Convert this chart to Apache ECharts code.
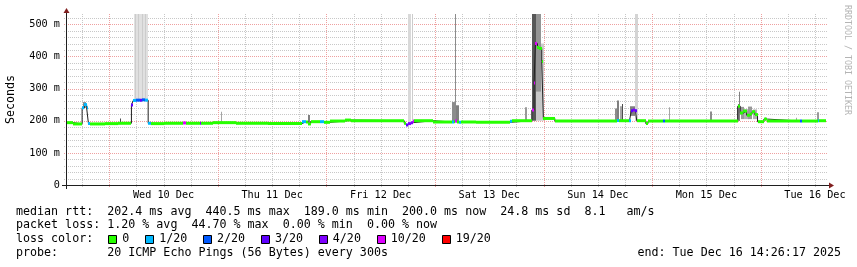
<!DOCTYPE html>
<html><head><meta charset="utf-8">
<script src="https://cdn.jsdelivr.net/npm/echarts@6/dist/echarts.min.js"></script>
<style>html,body{margin:0;padding:0;background:#fff;}#c{width:857px;height:267px;}</style>
</head><body><div id="c"></div>
<script>
// time axis: hours since Tue Dec 9 2025 00:00
const START = 14 + 26/60 + 17/3600;
const END = START + 168;
const Y_MAX = 532;

const dayNoon = [36, 60, 84, 108, 132, 156, 180];
const dayLabels = ['Wed 10 Dec','Thu 11 Dec','Fri 12 Dec','Sat 13 Dec','Sun 14 Dec','Mon 15 Dec','Tue 16 Dec'];
const gridHours = [18,24,30,36,42,48,54,60,66,72,78,84,90,96,102,108,114,120,126,132,138,144,150,156,162,168,174,180];
const gridValues = [20,40,60,80,100,120,140,160,180,200,220,240,260,280,300,320,340,360,380,400,420,440,460,480,500,520];
const yLabelValues = [0,100,200,300,400,500];

// median rtt (ms) per step start time, with lost pings (of 20)
const medT = [14.44,16.0,18.0,18.5,19.0,19.4,19.8,23.0,26.0,28.9,29.3,30.0,30.8,31.3,32.0,32.6,33.3,36.0,40.4,40.9,44.0,44.3,47.0,52.0,59.0,66.6,67.5,68.0,68.5,70.6,71.5,72.8,76.1,77.5,89.2,89.6,90.1,90.6,91.2,91.4,95.6,99.8,100.2,100.45,100.8,101.3,101.7,105.0,112.6,113.0,117.4,117.9,118.2,118.65,119.0,119.6,119.96,122.5,136.2,136.7,139.0,139.4,139.8,140.3,140.6,142.6,143.1,146.4,146.8,162.9,163.5,164.2,164.9,165.6,166.1,166.7,167.3,168.7,169.5,176.8,177.2,180.6,180.9];
const medV = [194,190,240,250,240,191,190,191,192,249,263,264,264,265,264,192,191,192,193,192,192,192,194,192,191,197,196,190,197,197,195,199,202,200,192,187,191,194,199,200,196,196,197,199,196,195,196,195,198,200,233,317,440,428,425,384,207,199,201,200,200,231,233,231,200,191,199,199,199,245,224,230,217,221,228,219,197,205,199,199,199,200,200];
const medLoss = [0,0,1,1,1,1,0,0,0,3,1,2,3,2,1,1,0,0,10,0,4,0,0,0,0,1,0,0,0,1,0,0,0,0,0,3,4,4,10,0,0,1,0,10,0,1,0,0,1,0,10,10,10,0,0,0,0,0,1,0,1,3,4,3,0,0,0,2,0,0,0,0,0,0,0,0,0,0,0,2,0,1,0];

// smoke (ping spread): start, end (hours), low, high (ms), density 0..1
const smokeStart = [18.3,26.3,29.5,29.7,30.45,31.2,31.95,48.6,68.0,90.1,91.0,99.7,100.35,100.55,115.9,117.55,118.35,118.35,119.4,135.8,136.3,136.8,137.3,139.2,140.3,147.8,156.8,162.9,163.3,163.6,164.3,165.3,166.2,169.0,175.8,180.4];
const smokeEnd   = [19.0,26.5,32.6,29.9,30.65,31.4,32.15,48.8,68.4,90.8,91.2,100.3,100.55,101.3,116.3,118.35,119.4,119.4,119.96,136.3,136.8,137.2,137.5,140.3,140.9,148.1,157.3,163.3,163.6,164.3,165.3,166.2,167.1,169.3,176.1,180.8];
const smokeLow   = [240,190,265,265,265,265,265,192,195,195,200,199,199,199,199,200,200,290,200,199,199,199,199,215,199,199,199,200,200,205,205,205,205,199,199,199];
const smokeHigh  = [258,207,532,532,532,532,532,228,218,532,532,258,532,248,242,532,290,532,440,238,263,245,252,245,532,242,229,252,290,243,236,244,235,211,209,226];
const smokeDensity=[0.45,0.7,0.12,0.2,0.2,0.2,0.2,0.35,0.5,0.15,0.2,0.45,0.45,0.5,0.4,0.66,0.22,0.42,0.2,0.45,0.5,0.35,0.7,0.5,0.17,0.35,0.45,0.55,0.5,0.4,0.3,0.4,0.3,0.35,0.35,0.4];

const rttStats = [202.4, 440.5, 189.0, 200.0, 24.8, 8.1];
const lossStats = [1.20, 44.70, 0.00, 0.00];
const lossLevels = [0,1,2,3,4,10,19];
const lossLabels = ['0','1/20','2/20','3/20','4/20','10/20','19/20'];
const lossColors = ['#26ff00','#00b8ff','#0059ff','#5e00ff','#7e00ff','#dd00ff','#ff0000'];

function lossColor(l){
  let c = lossColors[0];
  for (let i=0;i<lossLevels.length;i++) if (l >= lossLevels[i]) c = lossColors[i];
  return c;
}
const MONO = '"DejaVu Sans Mono", monospace';
const MIN_GRID = '#c8c8c8';
const MAJ_GRID = '#eea0a0';

const chart = echarts.init(document.getElementById('c'), null, {renderer:'canvas'});

const bandData = medT.map((t,i)=>[t, i+1<medT.length ? medT[i+1] : END, medV[i], medLoss[i]]);
const stepData = medT.map((t,i)=>[t, medV[i]]).concat([[END, medV[medV.length-1]]]);
const smokeData = smokeStart.map((t,i)=>[t, smokeEnd[i], smokeLow[i], smokeHigh[i], smokeDensity[i]]);

chart.setOption({
  animation:false,
  backgroundColor:'#ffffff',
  grid:{left:66,right:31,top:14,bottom:82},
  xAxis:{type:'value',min:START,max:END,
    axisLine:{show:false},axisTick:{show:false},splitLine:{show:false},
    axisLabel:{customValues:dayNoon,formatter:v=>{const i=dayNoon.indexOf(v);return i>=0?dayLabels[i]:'';},
      fontFamily:MONO,fontSize:10.2,color:'#000',margin:5,hideOverlap:false}},
  yAxis:{type:'value',min:0,max:Y_MAX,
    axisLine:{show:false},axisTick:{show:false},splitLine:{show:false},
    axisLabel:{customValues:yLabelValues,formatter:v=>v===0?'0':(v+' m'),fontFamily:MONO,fontSize:10.2,color:'#000',margin:6}},
  series:[
    {type:'custom',name:'ygrid',z:1,silent:true,clip:false,
      data:gridValues.map(v=>[START,v]),
      renderItem:(params,api)=>{
        const cs=params.coordSys; const v=api.value(1);
        const y=Math.round(api.coord([START,v])[1])+0.5;
        return {type:'line',shape:{x1:cs.x-2,y1:y,x2:cs.x+cs.width+2,y2:y},
          style:{stroke:(v%100===0)?MAJ_GRID:MIN_GRID,lineWidth:1,lineDash:[1,1]}};
      }},
    {type:'custom',name:'xgrid',z:1,silent:true,clip:false,
      data:gridHours.map(h=>[h,0]),
      renderItem:(params,api)=>{
        const cs=params.coordSys; const h=api.value(0);
        const x=Math.round(api.coord([h,0])[0])+0.5;
        const major=(h%24===0);
        return {type:'line',shape:{x1:x,y1:cs.y,x2:x,y2:cs.y+cs.height+(major?3:2)},
          style:{stroke:major?MAJ_GRID:MIN_GRID,lineWidth:1,lineDash:[1,1]}};
      }},
    {type:'custom',name:'smoke',z:2,silent:true,
      encode:{x:[0,1],y:[2,3]},
      data:smokeData,
      renderItem:(params,api)=>{
        const a=api.coord([api.value(0),api.value(3)]);
        const b=api.coord([api.value(1),api.value(2)]);
        const g=Math.round(255*(1-api.value(4)));
        return {type:'rect',shape:{x:Math.round(a[0]),y:a[1],width:Math.max(1,Math.round(b[0]-a[0])),height:b[1]-a[1]},
          style:{fill:'rgb('+g+','+g+','+g+')'}};
      }},
    {type:'line',name:'median',z:3,silent:true,step:'end',showSymbol:false,symbol:'none',
      data:stepData,lineStyle:{color:'#202020',width:1}},
    {type:'custom',name:'loss',z:4,silent:true,
      encode:{x:[0,1],y:2},
      data:bandData,
      renderItem:(params,api)=>{
        const a=api.coord([api.value(0),api.value(2)]);
        const b=api.coord([api.value(1),api.value(2)]);
        return {type:'rect',shape:{x:Math.round(a[0]),y:a[1]-1.5,width:Math.max(1,Math.round(b[0])-Math.round(a[0])),height:3},
          style:{fill:lossColor(api.value(3))}};
      }}
  ]
});

const X0 = chart.convertToPixel({xAxisIndex:0}, START);
const X1 = chart.convertToPixel({xAxisIndex:0}, END);
const Y0 = chart.convertToPixel({yAxisIndex:0}, 0);
const Y1 = chart.convertToPixel({yAxisIndex:0}, Y_MAX);
const xa = Math.round(X0)+0.5, ya = Math.round(Y0)+0.5;
const AXIS='#1f1f1f', ARROW='#801f1f';
const FONT_L = '11.67px ' + MONO;
const cw = 7.025;

function txt(text,x,y,extra){
  return Object.assign({type:'text',z:100,silent:true,x:x,y:y,
    style:{text:text,font:FONT_L,fill:'#000',textAlign:'left',textVerticalAlign:'middle',align:'left',verticalAlign:'middle'}},extra||{});
}
const g = [];
g.push({type:'line',z:90,silent:true,shape:{x1:X0-4,y1:ya,x2:X1+4,y2:ya},style:{stroke:AXIS,lineWidth:1}});
g.push({type:'line',z:90,silent:true,shape:{x1:xa,y1:Y0+4,x2:xa,y2:Y1-4},style:{stroke:AXIS,lineWidth:1}});
g.push({type:'polygon',z:91,silent:true,shape:{points:[[X1+3,ya-3],[X1+3,ya+3],[X1+8,ya]]},style:{fill:ARROW}});
g.push({type:'polygon',z:91,silent:true,shape:{points:[[xa-3,Y1-1],[xa+3,Y1-1],[xa,Y1-6]]},style:{fill:ARROW}});
g.push({type:'text',z:100,silent:true,x:11,y:(Y0+Y1)/2,rotation:Math.PI/2,
  style:{text:'Seconds',font:FONT_L,fill:'#000',textAlign:'center',textVerticalAlign:'middle',align:'center',verticalAlign:'middle'}});
g.push({type:'text',z:100,silent:true,x:847,y:60,rotation:-Math.PI/2,
  style:{text:'RRDTOOL / TOBI OETIKER',font:'8.3px '+MONO,fill:'#b4b4b4',textAlign:'center',textVerticalAlign:'middle',align:'center',verticalAlign:'middle'}});

const row1 = 'median rtt:  ' + rttStats[0].toFixed(1)+' ms avg  '+rttStats[1].toFixed(1)+' ms max  '+rttStats[2].toFixed(1)+' ms min  '+rttStats[3].toFixed(1)+' ms now  '+rttStats[4].toFixed(1)+' ms sd  '+rttStats[5].toFixed(1)+'   am/s';
const row2 = 'packet loss: ' + lossStats[0].toFixed(2)+' % avg  '+lossStats[1].toFixed(2)+' % max  '+lossStats[2].toFixed(2)+' % min  '+lossStats[3].toFixed(2)+' % now';
const rowY = [211.7, 225.3, 239.3, 253.3];
g.push(txt(row1,16,rowY[0]));
g.push(txt(row2,16,rowY[1]));
g.push(txt('loss color:',16,rowY[2]));
let lx = 108.3;
for (let i=0;i<lossLabels.length;i++){
  g.push({type:'rect',z:100,silent:true,shape:{x:Math.round(lx)+0.5,y:235.5,width:8,height:8},style:{fill:lossColors[i],stroke:'#000',lineWidth:1}});
  g.push(txt(lossLabels[i],lx+14,rowY[2]));
  lx += 29.8 + cw*lossLabels[i].length;
}
g.push(txt('probe:       20 ICMP Echo Pings (56 Bytes) every 300s',16,rowY[3]));
g.push(txt('end: Tue Dec 16 14:26:17 2025',841,rowY[3],{style:{text:'end: Tue Dec 16 14:26:17 2025',font:FONT_L,fill:'#000',textAlign:'right',textVerticalAlign:'middle',align:'right',verticalAlign:'middle'}}));
chart.setOption({graphic:{elements:g}});
</script>
</body></html>
